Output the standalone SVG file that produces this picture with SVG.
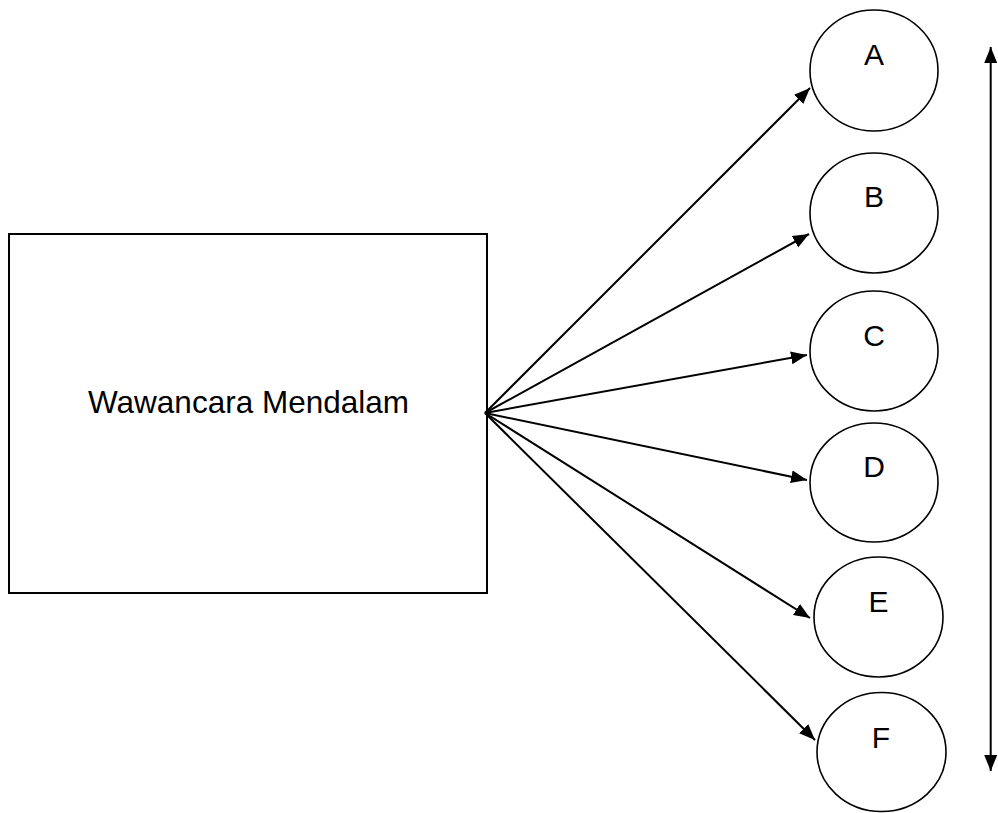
<svg xmlns="http://www.w3.org/2000/svg" width="998" height="813" viewBox="0 0 998 813">
<style>
.box{fill:#fff;stroke:#000;stroke-width:2}
.node{fill:#fff;stroke:#000;stroke-width:1.6}
.lbl{font-family:"Liberation Sans",Arial,sans-serif;font-size:30px;fill:#000;text-anchor:middle}
.conn{stroke:#000;stroke-width:2;fill:none}
</style>
<defs>
<marker id="ah" markerUnits="userSpaceOnUse" markerWidth="17" markerHeight="14" refX="16" refY="6.5" orient="auto-start-reverse">
<path d="M0,0 L16,6.5 L0,13 z" fill="#000"/>
</marker>
</defs>
<rect width="998" height="813" fill="#fff"/>
<g id="wawancara">
<rect class="box" x="9" y="234" width="478" height="359"/>
<text class="lbl" x="248.5" y="413" style="font-size:31.5px">Wawancara Mendalam</text>
</g>
<g id="nodeA"><ellipse class="node" cx="874" cy="70.5" rx="64" ry="60.5"/><text class="lbl" x="874" y="65">A</text></g>
<g id="nodeB"><ellipse class="node" cx="874" cy="213" rx="64" ry="60"/><text class="lbl" x="874" y="207">B</text></g>
<g id="nodeC"><ellipse class="node" cx="874" cy="351" rx="64" ry="60"/><text class="lbl" x="874" y="346">C</text></g>
<g id="nodeD"><ellipse class="node" cx="874" cy="482.5" rx="64" ry="59.5"/><text class="lbl" x="874" y="477">D</text></g>
<g id="nodeE"><ellipse class="node" cx="878.5" cy="617" rx="64.5" ry="60"/><text class="lbl" x="878.5" y="612">E</text></g>
<g id="nodeF"><ellipse class="node" cx="881.5" cy="752" rx="64.5" ry="59.5"/><text class="lbl" x="881" y="748">F</text></g>
<g id="connectors">
<line class="conn" x1="485" y1="413" x2="810" y2="88" marker-end="url(#ah)"/>
<line class="conn" x1="485" y1="413" x2="809" y2="234" marker-end="url(#ah)"/>
<line class="conn" x1="485" y1="413" x2="807" y2="355" marker-end="url(#ah)"/>
<line class="conn" x1="485" y1="413" x2="807" y2="480" marker-end="url(#ah)"/>
<line class="conn" x1="485" y1="413" x2="810" y2="618" marker-end="url(#ah)"/>
<line class="conn" x1="485" y1="413" x2="815" y2="740" marker-end="url(#ah)"/>
<line class="conn" x1="990.7" y1="47" x2="990.7" y2="771" marker-start="url(#ah)" marker-end="url(#ah)"/>
</g>
</svg>
